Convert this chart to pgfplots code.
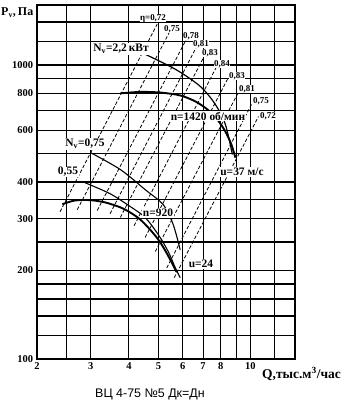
\documentclass[border=0pt]{standalone}
\usepackage{fontspec}
\setmainfont{Liberation Serif}
\newfontfamily\capfont{Liberation Sans}
\usepackage{pgfplots}
\pgfplotsset{compat=1.18}
\begin{document}
\begin{tikzpicture}
\begin{axis}[at={(0,0)}, anchor=south west, scale only axis,
  width=258bp, height=354bp,
  xmode=log, ymode=log, xmin=2, xmax=14, ymin=100, ymax=1600,
  xtick={2,2.5,3,4,5,6,7,8,9,10,12},
  xticklabels={\textbf{2},,\textbf{3},\textbf{4},\textbf{5},\textbf{6},\textbf{7},\textbf{8},,\textbf{10},},
  ytick={100,120,140,160,180,200,250,300,350,400,500,600,700,800,900,1000,1200,1400},
  yticklabels={\textbf{100},,,,,\textbf{200},,\textbf{300},,\textbf{400},,\textbf{600},,\textbf{800},,\textbf{1000},,},
  grid=major, major grid style={black, line width=1.1pt},
  major tick length=0pt, axis line style={line width=1.4pt},
  ticklabel style={font=\fontsize{10.5}{10.5}\selectfont},
  yticklabel style={xshift=-0.5pt},
  clip=true]
% n = 1420 pressure curve
\addplot[black, line width=1.9pt, smooth] coordinates {(3.75,801)(4.36,810)(5.07,806)(5.89,788)(6.60,752)(7.23,706)(7.79,653)(8.28,594)(8.66,537)(8.93,484)};
% n = 920 pressure curve
\addplot[black, line width=1.9pt, smooth] coordinates {(2.42,336)(2.66,346)(2.99,347)(3.34,341)(3.75,328)(4.04,315)(4.36,298)(4.70,275)(4.99,255)(5.26,234)(5.51,214)(5.72,198)};
% power lines
\addplot[black, line width=1.2pt, smooth] coordinates {(4.52,1088)(5.68,967)(6.85,846)(7.68,734)(8.28,628)(8.73,496)};
\addplot[black, line width=1.1pt, smooth] coordinates {(2.99,504)(3.75,441)(4.52,377)(5.18,335)(5.59,286)(5.89,235)};
\addplot[black, line width=1.1pt, smooth] coordinates {(2.87,398)(3.47,365)(4.04,330)(4.52,303)(4.99,265)(5.38,232)(5.68,204)(5.89,189)};
% efficiency lines
\pgfplotsset{eff/.style={black, line width=0.8pt, dash pattern=on 3.5pt off 2pt}}
\addplot[eff] coordinates {(2.38,317)(4.95,1377)};
\addplot[eff] coordinates {(2.71,322)(5.47,1313)};
\addplot[eff] coordinates {(3.15,320)(6.17,1224)};
\addplot[eff] coordinates {(3.47,312)(6.65,1149)};
\addplot[eff] coordinates {(3.75,303)(7.06,1071)};
\addplot[eff] coordinates {(4.16,284)(7.73,982)};
\addplot[eff] coordinates {(4.52,259)(8.41,894)};
\addplot[eff] coordinates {(4.88,232)(9.13,807)};
\addplot[eff] coordinates {(5.32,204)(10.08,734)};
\addplot[eff] coordinates {(5.63,189)(10.63,668)};
\end{axis}
\begin{scope}[x=1bp, y=-1bp, shift={(-37bp,359bp)}]
\path[use as bounding box] (0,0) rectangle (360,410);
\tikzset{lab/.style={font=\bfseries\fontsize{11.5}{11.5}\selectfont, inner sep=0.8pt, fill=white},
         eta/.style={font=\bfseries\fontsize{9}{9}\selectfont, inner sep=0.5pt, fill=white}}
\node[anchor=west, font=\bfseries\fontsize{12}{12}\selectfont, inner sep=0pt] at (1,13) {P$_{\mathbf{v}}$,\,Па};
\node[lab] at (121,49) {N$_{\mathbf{v}}$=2,2\,кВт};
\node[lab] at (208,116) {n=1420 об/мин};
\node[lab] at (242,172) {u=37 м/с};
\node[lab] at (85,144) {N$_{\mathbf{v}}$=0,75};
\node[lab] at (68,172) {0,55};
\node[lab] at (158,213) {n=920};
\node[lab] at (201,264) {u=24};
\node[eta] at (153,18) {η=0,72};
\node[eta] at (172,29) {0,75};
\node[eta] at (191,36) {0,78};
\node[eta] at (201,44) {0,81};
\node[eta] at (210,53) {0,83};
\node[eta] at (222,64) {0,84};
\node[eta] at (237,76) {0,83};
\node[eta] at (247,89) {0,81};
\node[eta] at (261,101) {0,75};
\node[eta] at (268,116) {0,72};
\node[anchor=west, font=\bfseries\fontsize{13.5}{13.5}\selectfont, inner sep=0pt] at (262,374) {Q,тыс.м\textsuperscript{3}/час};
\node[font=\capfont\fontsize{12.5}{12.5}\selectfont, inner sep=0pt] at (150,394) {ВЦ 4-75 №5 Дк=Дн};
\end{scope}
\end{tikzpicture}
\end{document}
